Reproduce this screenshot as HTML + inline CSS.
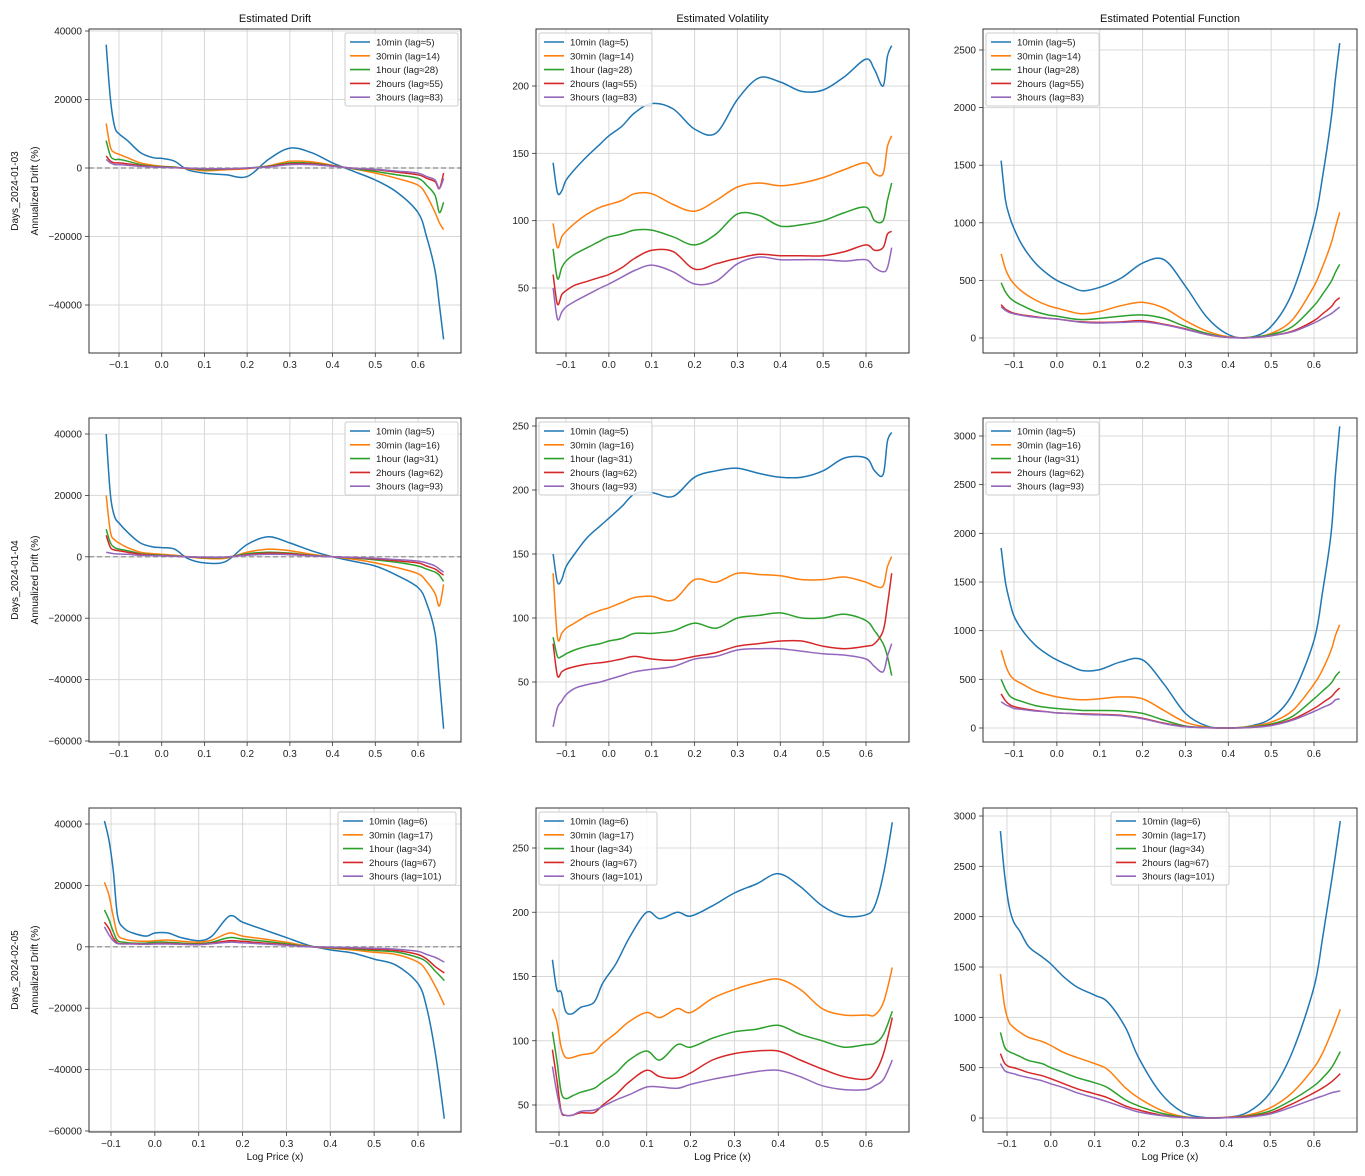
<!DOCTYPE html>
<html><head><meta charset="utf-8">
<style>
body{margin:0;background:#fff;}
svg{display:block;font-family:"Liberation Sans","DejaVu Sans",sans-serif;}
</style></head>
<body>
<svg id="fig" width="1365" height="1176" viewBox="0 0 1365 1176"></svg>
<script>
const xGridA = [-0.13,-0.12,-0.11,-0.1,-0.08,-0.05,-0.02,0.0,0.03,0.06,0.1,0.15,0.2,0.25,0.3,0.35,0.4,0.45,0.5,0.55,0.6,0.62,0.64,0.65,0.66];
const xGridB = [-0.115,-0.105,-0.095,-0.085,-0.07,-0.05,-0.02,0.0,0.03,0.06,0.1,0.13,0.17,0.2,0.25,0.3,0.35,0.4,0.45,0.5,0.55,0.6,0.62,0.64,0.66];
const seriesNames = ["10min","30min","1hour","2hours","3hours"];
const lagsR1 = [5,14,28,55,83];
const lagsR2 = [5,16,31,62,93];
const lagsR3 = [6,17,34,67,101];
const rowLabels = ["Days_2024-01-03","Days_2024-01-04","Days_2024-02-05"];
const colTitles = ["Estimated Drift","Estimated Volatility","Estimated Potential Function"];
const xTicks = [-0.1,0,0.1,0.2,0.3,0.4,0.5,0.6];
const xTickLabels = ["−0.1","0.0","0.1","0.2","0.3","0.4","0.5","0.6"];

const driftR1 = [
[36000,20000,12000,10000,8000,4500,3000,2800,2000,-500,-1500,-2000,-2500,2500,5800,4500,1500,-1000,-3500,-7000,-13000,-20000,-30000,-40000,-50000],
[13000,6000,4500,4000,3000,1500,800,500,300,-200,-800,-500,-200,600,2000,1800,800,-300,-1500,-3000,-5000,-8000,-13000,-16000,-18000],
[8000,3500,2500,2500,2000,1000,500,400,200,-100,-500,-300,0,500,1500,1400,700,-200,-1000,-2000,-3000,-5000,-8000,-13000,-10000],
[3500,2000,1500,1500,1200,700,400,300,100,-100,-300,-300,-100,400,1200,1200,600,-100,-500,-1200,-2000,-3000,-4000,-6000,-1500],
[2500,1500,1000,1000,800,500,300,200,100,0,-200,-200,0,300,1000,1000,500,-100,-400,-900,-1500,-2500,-3500,-6000,-3000]];
const volR1 = [
[143,121,122,130,138,148,157,163,170,180,187,183,168,165,190,206,203,196,197,207,220,212,200,222,230],
[98,80,88,92,98,105,110,112,115,120,120,112,107,115,125,128,126,128,132,138,143,135,135,155,163],
[79,57,65,70,75,80,85,88,90,93,93,88,82,90,105,104,96,97,100,106,110,100,100,115,128],
[60,38,45,48,52,55,58,60,65,72,78,77,64,68,72,75,74,74,74,77,82,78,80,90,92],
[50,27,32,36,40,45,50,53,58,63,67,62,53,55,68,73,71,71,71,70,71,65,62,65,80]];
const potR1 = [
[1540,1200,1050,950,800,650,550,500,450,410,440,520,650,680,450,180,30,5,100,400,1000,1400,1900,2250,2560],
[730,600,520,470,400,330,280,260,230,210,230,280,310,260,150,60,10,5,40,160,450,620,820,960,1090],
[480,400,350,320,280,230,200,190,170,160,170,190,200,170,100,40,5,5,30,100,280,380,490,570,640],
[290,250,230,215,200,185,170,165,150,140,135,140,150,120,80,30,5,3,20,60,150,210,270,320,350],
[270,240,220,210,195,180,170,165,150,135,130,135,140,115,75,30,5,3,20,55,130,170,210,240,270]];
const driftR2 = [
[40000,20000,13000,11000,8000,4500,3200,3000,2500,-500,-2000,-1500,4000,6500,4500,2000,0,-1500,-3000,-6000,-10000,-15000,-25000,-40000,-56000],
[20000,8000,5500,4500,3000,1500,1000,800,500,0,-500,-500,1500,2500,2000,800,0,-800,-2000,-3500,-5500,-8000,-12000,-16000,-9000],
[9000,4500,3000,2500,2000,1000,700,500,300,0,-300,-200,1000,1500,1200,500,0,-400,-1000,-1800,-3000,-4000,-5000,-6000,-8000],
[7000,3000,2200,2000,1500,800,500,400,200,0,-200,-100,700,1200,1000,400,0,-300,-700,-1300,-2000,-3000,-4000,-5000,-6000],
[1500,1200,1000,900,800,500,400,300,200,0,-100,-100,500,800,700,300,0,-200,-500,-900,-1400,-2000,-3000,-4000,-5000]];
const volR2 = [
[150,128,130,140,150,163,172,178,187,197,198,195,210,215,217,213,210,210,215,225,225,215,212,238,245],
[135,85,88,92,96,102,106,108,112,116,117,114,130,128,135,134,133,130,130,132,128,125,125,140,148],
[85,70,70,72,75,78,80,82,84,88,88,90,96,92,100,102,104,100,100,103,98,90,80,70,55],
[80,55,58,60,62,64,65,66,68,70,68,67,70,73,78,80,82,82,78,76,78,80,90,110,135],
[15,30,35,40,45,48,50,52,55,58,60,62,68,70,75,76,76,74,72,71,68,62,58,70,80]];
const potR2 = [
[1850,1500,1300,1150,1000,850,750,700,640,590,600,680,700,450,150,20,0,20,100,350,900,1400,2000,2600,3100],
[800,650,550,500,450,380,340,320,300,290,300,320,300,180,60,10,0,15,60,180,450,600,800,950,1060],
[500,400,330,300,270,230,210,200,190,180,180,175,150,80,20,5,0,10,40,120,300,380,460,530,580],
[350,280,240,220,200,180,165,155,150,145,140,130,100,50,15,3,0,5,30,90,200,260,320,370,410],
[270,240,220,200,190,175,165,155,150,140,135,125,95,45,12,3,0,5,25,80,170,210,250,290,300]];
const driftR3 = [
[41000,35000,25000,10000,6000,4500,3500,4500,4500,3000,2000,3500,10000,8000,5500,3000,500,-1000,-2000,-4000,-6000,-12000,-20000,-35000,-56000],
[21000,17000,10000,4000,2500,2000,1800,2000,2200,1800,1500,2200,4500,3500,2500,1500,200,-500,-1000,-1800,-2500,-5000,-8000,-13000,-19000],
[12000,9000,5000,2000,1500,1200,1200,1500,1500,1200,1000,1500,3000,2500,1800,1000,100,-300,-700,-1200,-1700,-3500,-5000,-8000,-11000],
[8000,6000,3000,1200,1000,1000,900,1000,1100,900,800,1200,2000,1800,1200,700,50,-200,-500,-800,-1200,-2500,-4000,-6500,-8500],
[6500,4000,2000,1000,900,900,800,900,900,800,700,1000,1500,1300,900,500,0,-100,-300,-500,-800,-1500,-2500,-3500,-5000]];
const volR3 = [
[163,140,138,123,121,126,130,145,160,180,200,195,200,197,205,215,222,230,220,205,197,198,205,230,270],
[125,115,95,87,87,89,91,98,106,115,122,118,125,122,133,140,145,148,140,125,120,120,120,130,157],
[107,85,60,55,57,60,63,68,75,85,92,85,97,95,102,107,109,112,105,100,95,97,98,105,123],
[93,70,45,42,42,44,44,50,58,68,77,72,71,75,85,90,92,92,85,78,72,70,75,90,118],
[80,60,45,42,42,45,46,49,54,58,64,64,63,66,70,73,76,77,72,65,62,62,65,70,85]];
const potR3 = [
[2850,2400,2100,1950,1850,1700,1600,1530,1400,1300,1220,1150,900,600,250,60,5,5,60,250,650,1300,1800,2350,2950],
[1430,1100,950,900,850,800,760,720,650,600,540,480,300,200,80,15,0,5,30,100,250,500,650,850,1080],
[850,700,660,640,610,570,540,500,450,400,350,300,180,120,50,10,0,5,20,70,180,320,400,500,660],
[640,540,510,500,480,450,420,390,340,290,240,200,120,80,30,5,0,5,15,50,140,250,300,360,440],
[540,470,450,440,420,400,370,340,300,250,200,160,100,60,25,5,0,3,10,40,110,190,220,250,270]];

const yTicksDrift1 = [-40000,-20000,0,20000,40000];
const yTicksDrift23 = [-60000,-40000,-20000,0,20000,40000];
const yTicksVol1 = [50,100,150,200];
const yTicksVol23 = [50,100,150,200,250];
const yTicksPot1 = [0,500,1000,1500,2000,2500];
const yTicksPot23 = [0,500,1000,1500,2000,2500,3000];

const colors = ["#1f77b4","#ff7f0e","#2ca02c","#d62728","#9467bd"];
const NS = "http://www.w3.org/2000/svg";
const svg = document.getElementById("fig");
function mk(tag, attrs, parent){const e=document.createElementNS(NS,tag);for(const k in attrs)e.setAttribute(k,attrs[k]);(parent||svg).appendChild(e);return e;}
function lin(v1,p1,v2,p2){return v=>p1+(v-v1)*(p2-p1)/(v2-v1);}
function smooth(pts){let d="M"+pts[0][0].toFixed(1)+","+pts[0][1].toFixed(1);
 for(let i=0;i<pts.length-1;i++){const p0=pts[Math.max(0,i-1)],p1=pts[i],p2=pts[i+1],p3=pts[Math.min(pts.length-1,i+2)];
 const c1=[p1[0]+(p2[0]-p0[0])/6,p1[1]+(p2[1]-p0[1])/6],c2=[p2[0]-(p3[0]-p1[0])/6,p2[1]-(p3[1]-p1[1])/6];
 d+=" C"+c1[0].toFixed(1)+","+c1[1].toFixed(1)+" "+c2[0].toFixed(1)+","+c2[1].toFixed(1)+" "+p2[0].toFixed(1)+","+p2[1].toFixed(1);}
 return d;}
function fmt(v){return v<0?"−"+(-v):String(v);}

const rows=[{t:29,b:353},{t:418,b:742},{t:808,b:1132}];
const cols=[{l:89,r:461},{l:536,r:909},{l:983,r:1357}];
const panels=[
 {r:0,c:0,kind:"drift",data:driftR1,xs:xGridA,lags:lagsR1,yt:yTicksDrift1,xr:[-0.1,119,0.6,418],yr:[40000,31,-40000,305],leg:[345,33]},
 {r:0,c:1,kind:"vol",data:volR1,xs:xGridA,lags:lagsR1,yt:yTicksVol1,xr:[-0.1,566,0.6,866],yr:[200,86,50,288],leg:[539,33]},
 {r:0,c:2,kind:"pot",data:potR1,xs:xGridA,lags:lagsR1,yt:yTicksPot1,xr:[-0.1,1014,0.6,1314],yr:[2500,50,0,338],leg:[986,33]},
 {r:1,c:0,kind:"drift",data:driftR2,xs:xGridA,lags:lagsR2,yt:yTicksDrift23,xr:[-0.1,119,0.6,418],yr:[40000,434,-60000,741],leg:[345,422]},
 {r:1,c:1,kind:"vol",data:volR2,xs:xGridA,lags:lagsR2,yt:yTicksVol23,xr:[-0.1,566,0.6,866],yr:[250,426,50,682],leg:[539,422]},
 {r:1,c:2,kind:"pot",data:potR2,xs:xGridA,lags:lagsR2,yt:yTicksPot23,xr:[-0.1,1014,0.6,1314],yr:[3000,436,0,728],leg:[986,422]},
 {r:2,c:0,kind:"drift",data:driftR3,xs:xGridB,lags:lagsR3,yt:yTicksDrift23,xr:[-0.1,111,0.6,418],yr:[40000,824,-60000,1131],leg:[338,812]},
 {r:2,c:1,kind:"vol",data:volR3,xs:xGridB,lags:lagsR3,yt:yTicksVol23,xr:[-0.1,559,0.6,866],yr:[250,848,50,1105],leg:[539,812]},
 {r:2,c:2,kind:"pot",data:potR3,xs:xGridB,lags:lagsR3,yt:yTicksPot23,xr:[-0.1,1007,0.6,1314],yr:[3000,816,0,1118],leg:[1111,812]}
];

panels.forEach((p,pi)=>{
 const R=rows[p.r],C=cols[p.c];
 const X=lin(...p.xr),Y=lin(...p.yr);
 const g=mk("g",{});
 
 
 const cid="clip"+pi;
 const cp=mk("clipPath",{id:cid},g);mk("rect",{x:C.l,y:R.t,width:C.r-C.l,height:R.b-R.t},cp);
 // grid
 xTicks.forEach((t,i)=>{const x=X(t);
  mk("line",{x1:x,x2:x,y1:R.t,y2:R.b,stroke:"#d8d8d8","stroke-width":1},g);
  mk("line",{x1:x,x2:x,y1:R.b,y2:R.b+4,stroke:"#333","stroke-width":0.8},g);
  const tx=mk("text",{x:x,y:R.b+15,"font-size":10,"text-anchor":"middle",fill:"#222"},g);tx.textContent=xTickLabels[i];
  });
 p.yt.forEach(t=>{const y=Y(t);
  mk("line",{x1:C.l,x2:C.r,y1:y,y2:y,stroke:"#d8d8d8","stroke-width":1},g);
  mk("line",{x1:C.l-4,x2:C.l,y1:y,y2:y,stroke:"#333","stroke-width":0.8},g);
  const tx=mk("text",{x:C.l-7,y:y+3.5,"font-size":10,"text-anchor":"end",fill:"#222"},g);tx.textContent=fmt(t);
  });
 if(p.kind==="drift"){const y=Y(0);const zl=mk("line",{x1:C.l,x2:C.r,y1:y,y2:y,stroke:"#888","stroke-width":1.2,"stroke-dasharray":"5,3"},g);
  }
 const lg=mk("g",{"clip-path":"url(#"+cid+")"},g);
 p.data.forEach((ser,si)=>{
  const pts=ser.map((v,i)=>[X(p.xs[i]),Y(v)]);
  const path=mk("path",{d:smooth(pts),fill:"none",stroke:colors[si],"stroke-width":1.5},lg);
  
  
 });
 const fr=mk("rect",{x:C.l,y:R.t,width:C.r-C.l,height:R.b-R.t,fill:"none",stroke:"#333","stroke-width":1},g);
 
 // legend
 const wide=p.lags[4]>=100;
 const lw=wide?118:113;
 const leg=mk("g",{},g);
 
 
 mk("rect",{x:p.leg[0],y:p.leg[1],width:lw,height:73,rx:2,fill:"#fff","fill-opacity":0.85,stroke:"#ccc","stroke-width":1},leg);
 seriesNames.forEach((n,si)=>{const y=p.leg[1]+9+si*13.8;
  mk("line",{x1:p.leg[0]+5,x2:p.leg[0]+25,y1:y,y2:y,stroke:colors[si],"stroke-width":1.6},leg);
  const t=mk("text",{x:p.leg[0]+31,y:y+3.5,"font-size":9.6,fill:"#222"},leg);t.textContent=n+" (lag≈"+p.lags[si]+")";
  });
 if(p.r===0){const t=mk("text",{x:(C.l+C.r)/2,y:22,"font-size":11,"text-anchor":"middle",fill:"#111"},svg);t.textContent=colTitles[p.c];
  }
 if(p.r===2){const t=mk("text",{x:(C.l+C.r)/2,y:1160,"font-size":10,"text-anchor":"middle",fill:"#111"},svg);t.textContent="Log Price (x)";
  }
 if(p.c===0){const cy=(R.t+R.b)/2;
  const t1=mk("text",{x:0,y:0,"font-size":10,"text-anchor":"middle",fill:"#111",transform:"translate(18,"+cy+") rotate(-90)"},svg);t1.textContent=rowLabels[p.r];
  
  const t2=mk("text",{x:0,y:0,"font-size":10,"text-anchor":"middle",fill:"#111",transform:"translate(38,"+cy+") rotate(-90)"},svg);t2.textContent="Annualized Drift (%)";
  }
});
</script>
</body></html>
